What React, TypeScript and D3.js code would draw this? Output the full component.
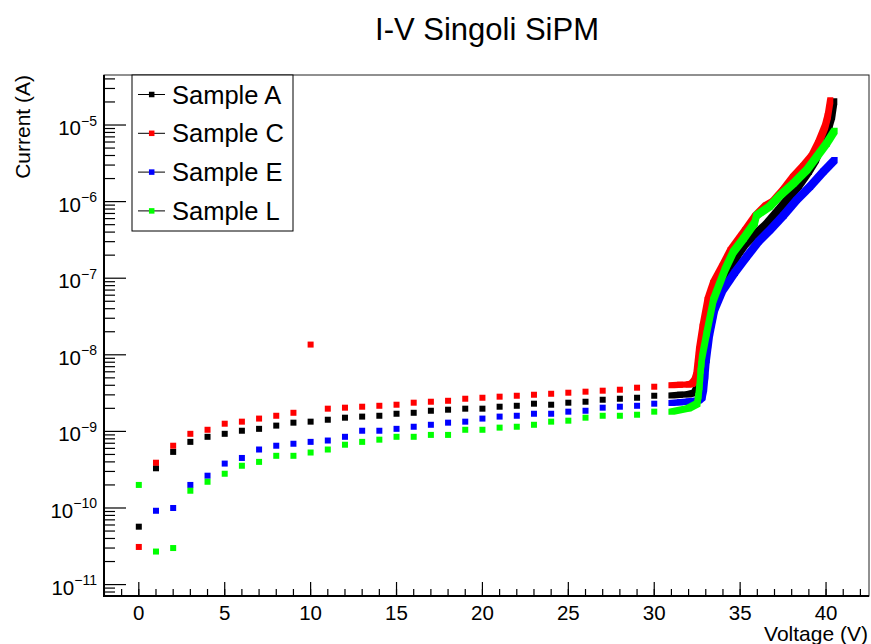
import React from 'react';
import * as d3 from 'd3';

const chartTitle = 'I-V Singoli SiPM';
const xAxisTitle = 'Voltage (V)';
const yAxisTitle = 'Current (A)';
const seriesNames = ['Sample A', 'Sample C', 'Sample E', 'Sample L'];
const seriesColors = ['#000000', '#ff0000', '#0000ff', '#00ff00'];

// discrete steps 0..30 V
const stepVoltage = [0, 1, 2, 3, 4, 5, 6, 7, 8, 9, 10, 11, 12, 13, 14, 15, 16, 17, 18, 19, 20, 21, 22, 23, 24, 25, 26, 27, 28, 29, 30];
const stepCurrentA = [5.7e-11, 3.3e-10, 5.4e-10, 7.3e-10, 8.5e-10, 9.3e-10, 1.02e-9, 1.08e-9, 1.19e-9, 1.3e-9, 1.34e-9, 1.42e-9, 1.51e-9, 1.56e-9, 1.6e-9, 1.7e-9, 1.75e-9, 1.86e-9, 1.92e-9, 1.98e-9, 1.98e-9, 2.1e-9, 2.16e-9, 2.3e-9, 2.23e-9, 2.37e-9, 2.44e-9, 2.59e-9, 2.67e-9, 2.75e-9, 2.92e-9];
const stepCurrentC = [3.1e-11, 3.9e-10, 6.5e-10, 9.3e-10, 1.05e-9, 1.26e-9, 1.34e-9, 1.47e-9, 1.6e-9, 1.75e-9, 1.36e-8, 1.98e-9, 2.04e-9, 2.1e-9, 2.16e-9, 2.23e-9, 2.37e-9, 2.44e-9, 2.51e-9, 2.67e-9, 2.75e-9, 2.84e-9, 2.92e-9, 3.01e-9, 3.1e-9, 3.2e-9, 3.3e-9, 3.4e-9, 3.5e-9, 3.72e-9, 3.83e-9];
const stepCurrentE = [null, 9.2e-11, 1.0e-10, 2.0e-10, 2.64e-10, 3.8e-10, 4.5e-10, 5.8e-10, 6.5e-10, 6.9e-10, 7.3e-10, 7.6e-10, 8.5e-10, 1.02e-9, 1.02e-9, 1.08e-9, 1.15e-9, 1.22e-9, 1.3e-9, 1.34e-9, 1.47e-9, 1.56e-9, 1.6e-9, 1.7e-9, 1.7e-9, 1.81e-9, 1.86e-9, 2.04e-9, 2.1e-9, 2.16e-9, 2.3e-9];
const stepCurrentL = [2.0e-10, 2.7e-11, 3.0e-11, 1.68e-10, 2.2e-10, 2.8e-10, 3.56e-10, 4.0e-10, 4.8e-10, 4.8e-10, 5.3e-10, 5.8e-10, 6.7e-10, 7.3e-10, 7.8e-10, 8.5e-10, 8.5e-10, 9.0e-10, 9.0e-10, 1.05e-9, 1.05e-9, 1.12e-9, 1.15e-9, 1.22e-9, 1.34e-9, 1.38e-9, 1.51e-9, 1.6e-9, 1.6e-9, 1.65e-9, 1.81e-9];

// fine sweep 31..40.5 V (read along the dense bands)
const sweepVoltageA = [31.0, 31.5, 32.0, 32.35, 32.5, 32.65, 32.8, 32.95, 33.15, 33.35, 33.65, 34.0, 34.4, 34.85, 35.3, 35.8, 36.5, 37.2, 37.8, 38.4, 39.0, 39.4, 39.67, 39.96, 40.2, 40.35, 40.48];
const sweepCurrentA = [2.95e-9, 3.0e-9, 3.05e-9, 3.2e-9, 3.8e-9, 6.0e-9, 9.5e-9, 1.3e-8, 1.9e-8, 3.0e-8, 5.2e-8, 8.5e-8, 1.25e-7, 2.0e-7, 2.8e-7, 3.6e-7, 5.0e-7, 7.6e-7, 1.1e-6, 1.6e-6, 2.5e-6, 3.5e-6, 5.0e-6, 7.4e-6, 1.0e-5, 1.3e-5, 2.05e-5];

const sweepVoltageC = [31.0, 31.5, 32.0, 32.2, 32.35, 32.45, 32.61, 32.82, 33.11, 33.44, 33.96, 34.45, 35.3, 35.9, 36.5, 36.93, 37.52, 38.1, 38.68, 39.17, 39.55, 39.94, 40.1, 40.25];
const sweepCurrentC = [4.0e-9, 4.05e-9, 4.1e-9, 4.2e-9, 4.6e-9, 5.4e-9, 1.16e-8, 2.33e-8, 5.2e-8, 8.6e-8, 1.41e-7, 2.3e-7, 4.2e-7, 6.5e-7, 8.8e-7, 1.0e-6, 1.42e-6, 2.1e-6, 2.9e-6, 3.9e-6, 5.8e-6, 9.5e-6, 1.3e-5, 2.1e-5];

const sweepVoltageE = [31.0, 31.5, 32.0, 32.6, 32.8, 32.9, 32.97, 33.05, 33.25, 33.54, 34.0, 34.7, 35.38, 36.06, 36.74, 37.52, 38.29, 39.07, 39.84, 40.5];
const sweepCurrentE = [2.35e-9, 2.4e-9, 2.45e-9, 2.55e-9, 2.8e-9, 3.6e-9, 5.2e-9, 8.5e-9, 1.9e-8, 4.0e-8, 7.0e-8, 1.2e-7, 1.9e-7, 3.0e-7, 4.26e-7, 6.6e-7, 1.05e-6, 1.57e-6, 2.45e-6, 3.5e-6];

const sweepVoltageL = [31.0, 31.5, 32.0, 32.5, 32.57, 32.63, 32.67, 32.7, 32.74, 32.78, 33.05, 33.44, 34.12, 34.6, 35.2, 35.85, 35.95, 36.7, 37.32, 38.1, 38.6, 38.88, 39.46, 40.04, 40.5];
const sweepCurrentL = [1.8e-9, 1.9e-9, 2.0e-9, 2.3e-9, 2.9e-9, 3.8e-9, 4.9e-9, 6.2e-9, 7.5e-9, 9.2e-9, 1.9e-8, 5.2e-8, 1.3e-7, 2.2e-7, 3.3e-7, 5.3e-7, 6.6e-7, 8.6e-7, 1.2e-6, 1.73e-6, 2.25e-6, 2.59e-6, 3.86e-6, 5.77e-6, 8.4e-6];

const xMajorTicks = [0, 5, 10, 15, 20, 25, 30, 35, 40];
const xMinorTicks = [-2, -1, 0, 1, 2, 3, 4, 5, 6, 7, 8, 9, 10, 11, 12, 13, 14, 15, 16, 17, 18, 19, 20, 21, 22, 23, 24, 25, 26, 27, 28, 29, 30, 31, 32, 33, 34, 35, 36, 37, 38, 39, 40, 41, 42];
const yDecadeExponents = [-11, -10, -9, -8, -7, -6, -5];
const yMinorDecades = [-12, -11, -10, -9, -8, -7, -6, -5];
const yMinorMultipliers = [2, 3, 4, 5, 6, 7, 8, 9];

const FONT = '"Liberation Sans", Arial, Helvetica, sans-serif';

function hullPath(p0: [number, number], p1: [number, number], h: number): string {
  const pts: [number, number][] = [];
  for (const p of [p0, p1]) {
    pts.push([p[0] - h, p[1] - h], [p[0] + h, p[1] - h], [p[0] + h, p[1] + h], [p[0] - h, p[1] + h]);
  }
  const hull = d3.polygonHull(pts);
  if (!hull) return '';
  return 'M' + hull.map((q) => q[0].toFixed(2) + ',' + q[1].toFixed(2)).join('L') + 'Z';
}

export default function App() {
  const W = 871;
  const H = 644;
  const left = 104, right = 869, top = 75, bottom = 596;
  const x = d3.scaleLinear().domain([-2.026, 42.5]).range([left, right]);
  const y = d3.scaleLog().domain([Math.pow(10, -11.149), Math.pow(10, -4.347)]).range([bottom, top]);
  const ms = 6;

  const steps = [stepCurrentA, stepCurrentC, stepCurrentE, stepCurrentL];
  const sweepsV = [sweepVoltageA, sweepVoltageC, sweepVoltageE, sweepVoltageL];
  const sweepsI = [sweepCurrentA, sweepCurrentC, sweepCurrentE, sweepCurrentL];

  const [yMin, yMax] = y.domain();

  return (
    <svg width={W} height={H} style={{ position: 'absolute', left: 0, top: 0, background: '#fff' }} fontFamily={FONT}>
      <rect x={0} y={0} width={W} height={H} fill="#fff" />
      <text x={487} y={40} textAnchor="middle" fontSize={31} fill="#000">{chartTitle}</text>

      {/* data */}
      {seriesNames.map((name, si) => {
        const color = seriesColors[si];
        const sv = sweepsV[si];
        const sc = sweepsI[si];
        const pts: [number, number][] = sv.map((v, i) => [x(v), y(sc[i])]);
        return (
          <g key={name} fill={color}>
            {stepVoltage.map((v, i) => {
              const c = steps[si][i];
              if (c == null) return null;
              return <rect key={'s' + i} x={x(v) - ms / 2} y={y(c) - ms / 2} width={ms} height={ms} />;
            })}
            {pts.slice(1).map((p, i) => (
              <path key={'h' + i} d={hullPath(pts[i], p, ms / 2)} />
            ))}
          </g>
        );
      })}

      {/* frame */}
      <rect x={left} y={top} width={right - left} height={bottom - top} fill="none" stroke="#222" strokeWidth={1} />
      <line x1={left} x2={left} y1={top} y2={bottom + 1} stroke="#000" strokeWidth={2} />
      <line x1={left - 1} x2={right} y1={bottom} y2={bottom} stroke="#000" strokeWidth={2} />

      {/* x ticks */}
      {xMinorTicks.map((t) => (
        <line key={'xm' + t} x1={x(t)} x2={x(t)} y1={bottom} y2={bottom - 7} stroke="#000" strokeWidth={1.2} />
      ))}
      {xMajorTicks.map((t) => (
        <g key={'xM' + t}>
          <line x1={x(t)} x2={x(t)} y1={bottom} y2={bottom - 14} stroke="#000" strokeWidth={1.2} />
          <text x={x(t)} y={620} textAnchor="middle" fontSize={20.5} fill="#000">{t}</text>
        </g>
      ))}

      {/* y ticks */}
      {yMinorDecades.flatMap((e) =>
        yMinorMultipliers.map((m) => {
          const v = m * Math.pow(10, e);
          if (v < yMin || v > yMax) return null;
          const yy = y(v);
          return <line key={'ym' + e + '_' + m} x1={left} x2={left + 11} y1={yy} y2={yy} stroke="#000" strokeWidth={1.2} />;
        })
      )}
      {yDecadeExponents.map((e) => {
        const yy = y(Math.pow(10, e));
        return (
          <g key={'yM' + e}>
            <line x1={left} x2={left + 22} y1={yy} y2={yy} stroke="#000" strokeWidth={1.2} />
            <text x={97} y={yy + 10} textAnchor="end" fontSize={20.5} fill="#000">
              10
              <tspan dy={-9.5} fontSize={14}>{'\u2212' + Math.abs(e)}</tspan>
            </text>
          </g>
        );
      })}

      {/* axis titles */}
      <text x={868} y={641} textAnchor="end" fontSize={21} fill="#000">{xAxisTitle}</text>
      <text transform={`translate(30,${top}) rotate(-90)`} textAnchor="end" fontSize={21} fill="#000">{yAxisTitle}</text>

      {/* legend */}
      <rect x={132} y={75} width={161} height={156} fill="#fff" stroke="#000" strokeWidth={1} />
      {seriesNames.map((name, si) => {
        const cy = 94.5 + si * 38.8;
        return (
          <g key={'lg' + si}>
            <line x1={138} x2={165} y1={cy} y2={cy} stroke="#000" strokeWidth={1} />
            <rect x={151.7 - 2.75} y={cy - 2.75} width={5.5} height={5.5} fill={seriesColors[si]} />
            <text x={172} y={cy + 9} fontSize={25.5} fill="#000">{name}</text>
          </g>
        );
      })}
    </svg>
  );
}
